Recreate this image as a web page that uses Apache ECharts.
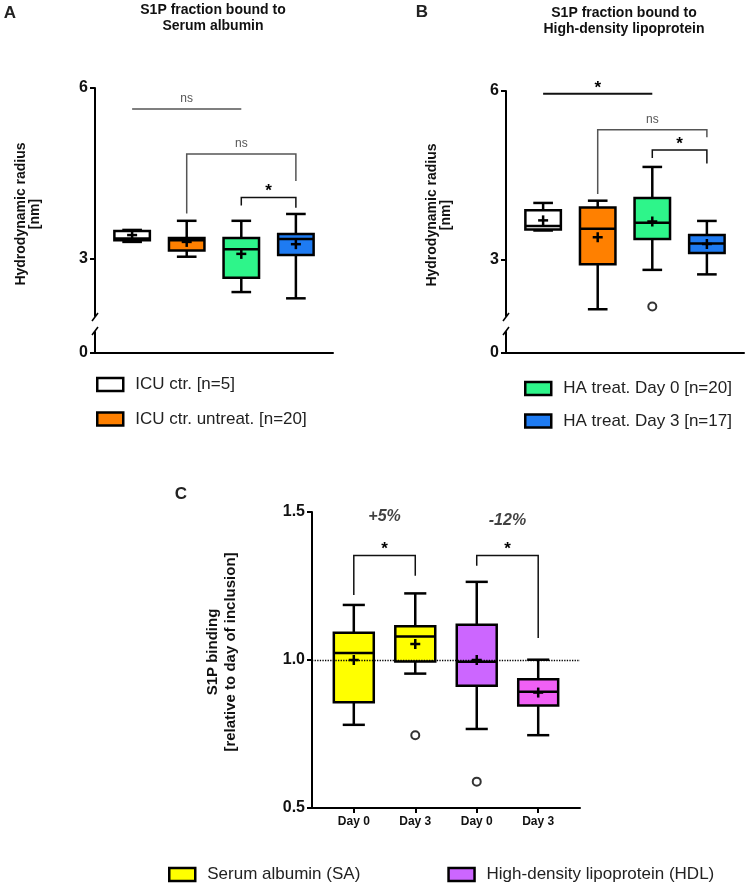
<!DOCTYPE html>
<html>
<head>
<meta charset="utf-8">
<title>S1P binding</title>
<script src="https://cdn.jsdelivr.net/npm/echarts@6/dist/echarts.min.js"></script>
<style>
    html, body { margin: 0; padding: 0; background: #fff; }
    #main { width: 745px; height: 885px; }
</style>
</head>
<body>
<div id="main"></div>
<script>
    // groups of panel A / B
    var groupsAB = ['ICU ctr. [n=5]', 'ICU ctr. untreat. [n=20]', 'HA treat. Day 0 [n=20]', 'HA treat. Day 3 [n=17]'];
    var colorsAB = ['#FFFFFF', '#FF8000', '#2EF58A', '#1E7BF2'];

    // box stats: [min, Q1, median, Q3, max]
    var boxA = [[3.30, 3.33, 3.36, 3.49, 3.51], [3.04, 3.15, 3.33, 3.37, 3.67], [2.42, 2.67, 3.17, 3.37, 3.67], [2.31, 3.07, 3.35, 3.44, 3.79]];
    var meanA = [3.42, 3.30, 3.09, 3.26];
    var boxB = [[3.52, 3.54, 3.60, 3.88, 4.01], [2.12, 2.92, 3.55, 3.93, 4.05], [2.82, 3.37, 3.66, 4.10, 4.65], [2.74, 3.12, 3.29, 3.44, 3.69]];
    var meanB = [3.70, 3.40, 3.68, 3.28];
    var outliersB = [[3, 2.17]];

    // brackets: [x1, x2, top, left end, right end]
    var bracketsA = [[1, 3, 5.63, 5.63, 5.63], [2, 4, 4.84, 3.80, 4.37], [3, 4, 4.08, 3.94, 3.90]];
    var bracketTextA = ['ns', 'ns', '*'];
    var bracketsB = [[1, 3, 5.95, 5.95, 5.95], [2, 4, 5.31, 4.17, 5.18], [3, 4, 4.95, 4.81, 4.71]];
    var bracketTextB = ['*', 'ns', '*'];

    // panel C
    var dayLabels = ['Day 0', 'Day 3', 'Day 0', 'Day 3'];
    var groupsC = ['Serum albumin (SA)', 'High-density lipoprotein (HDL)'];
    var colorsC = ['#FFFF00', '#FFFF00', '#CC66FF', '#F060F5'];
    var boxC = [[0.781, 0.857, 1.024, 1.092, 1.186], [0.954, 0.995, 1.079, 1.114, 1.225], [0.767, 0.913, 0.994, 1.119, 1.264], [0.746, 0.846, 0.893, 0.935, 1.001]];
    var meanC = [1.0, 1.054, 1.0, 0.89];
    var outliersC = [[2, 0.746], [3, 0.589]];
    var bracketsC = [[1, 2, 1.353, 1.220, 1.285], [3, 4, 1.353, 1.318, 1.074]];
    var bracketTextC = ['*', '*'];
    var changeLabels = ['+5%', '-12%'];
    var changePos = [[1.5, 1.486], [3.5, 1.47]];

    var F = '"Liberation Sans", Arial, sans-serif';
    var BOX_W = 0.65, CAP_W = 0.36;

    function renderBox(params, api) {
        var x = api.value(0);
        var p = function (i) { return api.coord([x, api.value(i)]); };
        var lo = p(1), q1 = p(2), md = p(3), q3 = p(4), hi = p(5), mn = p(6);
        var cx = lo[0];
        var bw = api.size([BOX_W, 0])[0] / 2;
        var cw = api.size([CAP_W, 0])[0] / 2;
        var ln = { stroke: '#000', lineWidth: 2.5 };
        var seg = function (x1, y1, x2, y2) {
            return { type: 'line', shape: { x1: x1, y1: y1, x2: x2, y2: y2 }, style: ln };
        };
        return {
            type: 'group',
            children: [
                seg(cx, hi[1], cx, q3[1]),
                seg(cx, q1[1], cx, lo[1]),
                seg(cx - cw, hi[1], cx + cw, hi[1]),
                seg(cx - cw, lo[1], cx + cw, lo[1]),
                { type: 'rect', shape: { x: cx - bw, y: q3[1], width: 2 * bw, height: q1[1] - q3[1] },
                  style: { fill: api.visual('color'), stroke: '#000', lineWidth: 2.5 } },
                seg(cx - bw, md[1], cx + bw, md[1]),
                seg(cx - 5, mn[1], cx + 5, mn[1]),
                seg(cx, mn[1] - 5, cx, mn[1] + 5)
            ]
        };
    }

    function bracketRender(texts) {
        return function (params, api) {
            var x1 = api.value(0), x2 = api.value(1), yt = api.value(2);
            var a = api.coord([x1, api.value(3)]), b = api.coord([x1, yt]);
            var c = api.coord([x2, yt]), d = api.coord([x2, api.value(4)]);
            var t = texts[params.dataIndex];
            var star = t === '*';
            var flat = a[1] === b[1] && d[1] === c[1];
            return {
                type: 'group',
                children: [
                    { type: 'polyline', shape: { points: [a, b, c, d] },
                      style: { fill: null, stroke: star ? '#111' : '#555', lineWidth: (star && flat) ? 2 : 1.5 } },
                    { type: 'text', x: (b[0] + c[0]) / 2, y: b[1] - (star ? 6 : 10),
                      style: { text: t, align: 'center', verticalAlign: 'middle',
                               font: star ? 'bold 17px ' + F : '12px ' + F, fill: star ? '#000' : '#555' } }
                ]
            };
        };
    }

    var yLabel = { fontSize: 16, fontWeight: 'bold', color: '#111', fontFamily: F, margin: 7 };
    var axLine = { show: true, lineStyle: { color: '#000', width: 2 } };
    var axTick = { show: true, length: 5, lineStyle: { color: '#000', width: 2 } };

    function xAx(grid, showLine) {
        return {
            type: 'value', gridIndex: grid, min: 0.32, max: 4.68,
            axisLine: { show: showLine, lineStyle: { color: '#000', width: 2 } },
            axisTick: { show: false }, axisLabel: { show: false }, splitLine: { show: false }
        };
    }
    function yUpper(grid) {
        return {
            type: 'value', gridIndex: grid, min: 2, max: 6,
            axisLine: axLine, axisTick: Object.assign({ customValues: [3, 6] }, axTick),
            axisLabel: Object.assign({ customValues: [3, 6] }, yLabel), splitLine: { show: false }
        };
    }
    function yLower(grid, max) {
        return {
            type: 'value', gridIndex: grid, min: 0, max: max,
            axisLine: axLine, axisTick: Object.assign({ customValues: [0] }, axTick),
            axisLabel: Object.assign({ customValues: [0] }, yLabel), splitLine: { show: false }
        };
    }

    var series = [];
    groupsAB.forEach(function (name, i) {
        series.push({ type: 'custom', name: name, xAxisIndex: 0, yAxisIndex: 0, itemStyle: { color: colorsAB[i] },
            renderItem: renderBox, data: [[i + 1].concat(boxA[i], [meanA[i]])] });
        series.push({ type: 'custom', name: name, xAxisIndex: 2, yAxisIndex: 2, itemStyle: { color: colorsAB[i] },
            renderItem: renderBox, data: [[i + 1].concat(boxB[i], [meanB[i]])] });
    });
    series.push({ type: 'scatter', name: 'outliers B', xAxisIndex: 2, yAxisIndex: 2, symbol: 'circle', symbolSize: 8,
        itemStyle: { color: '#fff', borderColor: '#000', borderWidth: 2 }, data: outliersB, silent: true });
    series.push({ type: 'custom', name: 'brackets A', xAxisIndex: 0, yAxisIndex: 0, silent: true,
        renderItem: bracketRender(bracketTextA), data: bracketsA });
    series.push({ type: 'custom', name: 'brackets B', xAxisIndex: 2, yAxisIndex: 2, silent: true,
        renderItem: bracketRender(bracketTextB), data: bracketsB });

    // panel C
    series.push({ type: 'line', name: 'reference', xAxisIndex: 4, yAxisIndex: 4, data: [], z: 1, silent: true,
        markLine: { silent: true, symbol: 'none', label: { show: false },
            lineStyle: { type: 'dotted', color: '#000', width: 1.3 }, data: [{ yAxis: 1 }] } });
    groupsC.forEach(function (name, g) {
        var items = [];
        for (var k = 0; k < 2; k++) {
            var i = g * 2 + k;
            items.push({ value: [i + 1].concat(boxC[i], [meanC[i]]), itemStyle: { color: colorsC[i] } });
        }
        series.push({ type: 'custom', name: name, xAxisIndex: 4, yAxisIndex: 4, itemStyle: { color: colorsC[g * 2] },
            renderItem: renderBox, data: items });
    });
    series.push({ type: 'scatter', name: 'outliers C', xAxisIndex: 4, yAxisIndex: 4, symbol: 'circle', symbolSize: 8,
        itemStyle: { color: '#fff', borderColor: '#000', borderWidth: 2 }, data: outliersC, silent: true });
    series.push({ type: 'custom', name: 'brackets C', xAxisIndex: 4, yAxisIndex: 4, silent: true,
        renderItem: bracketRender(bracketTextC), data: bracketsC });
    series.push({ type: 'scatter', name: 'change', xAxisIndex: 4, yAxisIndex: 4, symbolSize: 0, silent: true,
        label: { show: true, position: 'inside', formatter: function (p) { return changeLabels[p.dataIndex]; },
                 fontSize: 16, fontWeight: 'bold', fontStyle: 'italic', color: '#111', fontFamily: F },
        data: changePos });

    var legendBase = {
        icon: 'rect', itemWidth: 26, itemHeight: 13, orient: 'vertical', selectedMode: false,
        itemStyle: { borderColor: '#000', borderWidth: 2.5 },
        textStyle: { fontSize: 17, fontFamily: F, color: '#222', padding: [0, 0, 0, 7] }
    };

    function breakMarks(ax, yTop, yBot) {
        var st = { stroke: '#000', lineWidth: 1.5 };
        return [
            { type: 'line', shape: { x1: ax - 3, y1: yTop + 4, x2: ax + 3, y2: yTop - 4 }, style: st },
            { type: 'line', shape: { x1: ax - 3, y1: yBot + 4, x2: ax + 3, y2: yBot - 4 }, style: st }
        ];
    }

    var chart = echarts.init(document.getElementById('main'), null, { renderer: 'canvas' });
    var option = {
        animation: false,
        backgroundColor: '#fff',
        textStyle: { fontFamily: F },
        grid: [
            { left: 95, top: 88, width: 238, height: 228 },
            { left: 95, top: 332, width: 238, height: 21 },
            { left: 506, top: 91, width: 238, height: 225 },
            { left: 506, top: 332, width: 238, height: 21 },
            { left: 312, top: 512, width: 268, height: 296 }
        ],
        xAxis: [
            xAx(0, false), xAx(1, true), xAx(2, false), xAx(3, true),
            {
                type: 'value', gridIndex: 4, min: 0.32, max: 4.68,
                axisLine: axLine,
                axisTick: Object.assign({ customValues: [1, 2, 3, 4] }, axTick),
                axisLabel: { customValues: [1, 2, 3, 4], fontSize: 12, fontWeight: 'bold', color: '#111', fontFamily: F, margin: 8,
                             formatter: function (v) { return dayLabels[Math.round(v) - 1]; } },
                splitLine: { show: false }
            }
        ],
        yAxis: [
            yUpper(0), yLower(1, 21 / 57), yUpper(2), yLower(3, 21 / 56.2),
            {
                type: 'value', gridIndex: 4, min: 0.5, max: 1.5, interval: 0.5,
                axisLine: axLine, axisTick: axTick,
                axisLabel: Object.assign({ formatter: function (v) { return v.toFixed(1); } }, yLabel),
                splitLine: { show: false }
            }
        ],
        legend: [
            Object.assign({}, legendBase, { left: 91, top: 371, itemGap: 17.5, data: [groupsAB[0], groupsAB[1]] }),
            Object.assign({}, legendBase, { left: 519, top: 375, itemGap: 15.5, data: [groupsAB[2], groupsAB[3]] }),
            Object.assign({}, legendBase, { left: 163, top: 861, orient: 'horizontal', itemGap: 87, data: groupsC })
        ],
        graphic: [
            { type: 'text', x: 10, y: 13, style: { text: 'A', font: 'bold 17px ' + F, fill: '#222', align: 'center', verticalAlign: 'middle' } },
            { type: 'text', x: 422, y: 12, style: { text: 'B', font: 'bold 17px ' + F, fill: '#222', align: 'center', verticalAlign: 'middle' } },
            { type: 'text', x: 181, y: 494, style: { text: 'C', font: 'bold 17px ' + F, fill: '#222', align: 'center', verticalAlign: 'middle' } },
            { type: 'text', x: 213, y: 2, style: { text: 'S1P fraction bound to\nSerum albumin', font: 'bold 14px ' + F, lineHeight: 16, fill: '#111', align: 'center', verticalAlign: 'top' } },
            { type: 'text', x: 624, y: 5, style: { text: 'S1P fraction bound to\nHigh-density lipoprotein', font: 'bold 14px ' + F, lineHeight: 16, fill: '#111', align: 'center', verticalAlign: 'top' } },
            { type: 'text', x: 28, y: 214, rotation: Math.PI / 2, style: { text: 'Hydrodynamic radius\n[nm]', font: 'bold 14px ' + F, lineHeight: 14, fill: '#111', align: 'center', verticalAlign: 'middle' } },
            { type: 'text', x: 439, y: 215, rotation: Math.PI / 2, style: { text: 'Hydrodynamic radius\n[nm]', font: 'bold 14px ' + F, lineHeight: 14, fill: '#111', align: 'center', verticalAlign: 'middle' } },
            { type: 'text', x: 222, y: 652, rotation: Math.PI / 2, style: { text: 'S1P binding\n[relative to day of inclusion]', font: 'bold 15px ' + F, lineHeight: 18, fill: '#111', align: 'center', verticalAlign: 'middle' } }
        ].concat(breakMarks(95, 317, 331), breakMarks(506, 317, 331)),
        series: series
    };
    chart.setOption(option);
</script>
</body>
</html>
